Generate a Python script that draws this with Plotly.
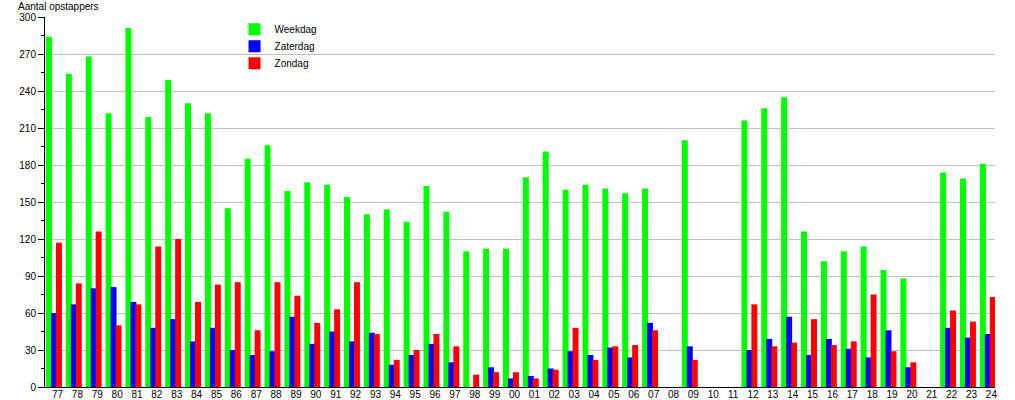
import plotly.graph_objects as go

years = ["77", "78", "79", "80", "81", "82", "83", "84", "85", "86", "87", "88",
         "89", "90", "91", "92", "93", "94", "95", "96", "97", "98", "99", "00",
         "01", "02", "03", "04", "05", "06", "07", "08", "09", "10", "11", "12",
         "13", "14", "15", "16", "17", "18", "19", "20", "21", "22", "23", "24"]

weekdag = [284, 254, 268, 222, 291, 219, 249, 230, 222, 145, 185, 196,
           159, 166, 164, 154, 140, 144, 134, 163, 142, 110, 112, 112,
           170, 191, 160, 164, 161, 157, 161, None, 200, None, None, 216,
           226, 235, 126, 102, 110, 114, 95, 88, None, 174, 169, 181]

zaterdag = [60, 67, 80, 81, 69, 48, 55, 37, 48, 30, 26, 29,
            57, 35, 45, 37, 44, 18, 26, 35, 20, 0, 16, 7,
            9, 15, 29, 26, 32, 24, 52, None, 33, None, None, 30,
            39, 57, 26, 39, 31, 24, 46, 16, None, 48, 40, 43]

zondag = [117, 84, 126, 50, 67, 114, 120, 69, 83, 85, 46, 85,
          74, 52, 63, 85, 43, 22, 30, 43, 33, 10, 12, 12,
          7, 14, 48, 22, 33, 34, 46, None, 22, None, None, 67,
          33, 36, 55, 34, 37, 75, 29, 20, None, 62, 53, 73]

series = [("Weekdag", weekdag, "#00FF00", 0.0, "legend", 1.0062),
          ("Zaterdag", zaterdag, "#0000FF", 0.25, "legend2", 0.9603),
          ("Zondag", zondag, "#FF0000", 0.5, "legend3", 0.9143)]

pos = list(range(len(years)))

fig = go.Figure()
legends = {}
for name, vals, color, off, leg, ly in series:
    fig.add_trace(go.Bar(
        x=pos, y=vals, name=name,
        offset=off, width=0.3,
        marker=dict(color=color, line=dict(width=0)),
        legend=leg,
    ))
    legends[leg] = dict(x=0.1995, y=ly, xanchor="left", yanchor="top",
                        bgcolor="rgba(0,0,0,0)", font=dict(size=10),
                        itemclick=False, itemdoubleclick=False)

fig.update_layout(
    template="none",
    width=1015, height=400,
    barmode="overlay",
    plot_bgcolor="white", paper_bgcolor="white",
    margin=dict(l=45, r=20, t=17, b=13, pad=0, autoexpand=False),
    font=dict(family="Liberation Sans, Arial, sans-serif", size=10, color="black"),
    showlegend=True,
    xaxis=dict(
        automargin=False,
        range=[-0.05, 47.76],
        tickmode="array",
        tickvals=[p + 0.58 for p in pos],
        ticktext=years,
        showgrid=False, zeroline=False,
        showline=True, linecolor="black", linewidth=1,
        ticks="", tickfont=dict(size=10),
        ticklabelstandoff=-2,
    ),
    yaxis=dict(
        automargin=False,
        range=[0, 300], dtick=30, tick0=0,
        showgrid=True, gridcolor="#C0C0C0", gridwidth=1,
        zeroline=False,
        showline=True, linecolor="black", linewidth=1,
        ticks="outside", ticklen=6, tickcolor="black", tickwidth=1,
        minor=dict(dtick=15, ticks="outside", ticklen=3, tickcolor="black", showgrid=False),
        tickfont=dict(size=10),
    ),
    annotations=[dict(
        text="Aantal opstappers", xref="paper", yref="paper",
        x=-29 / 950, y=1.0, xanchor="left", yanchor="bottom", yshift=3,
        showarrow=False, font=dict(size=10),
    )],
    **legends,
)

fig.write_html(
    "out.html",
    config={"displayModeBar": False},
    post_script="document.body.style.margin='0';document.body.style.overflow='hidden';",
)
